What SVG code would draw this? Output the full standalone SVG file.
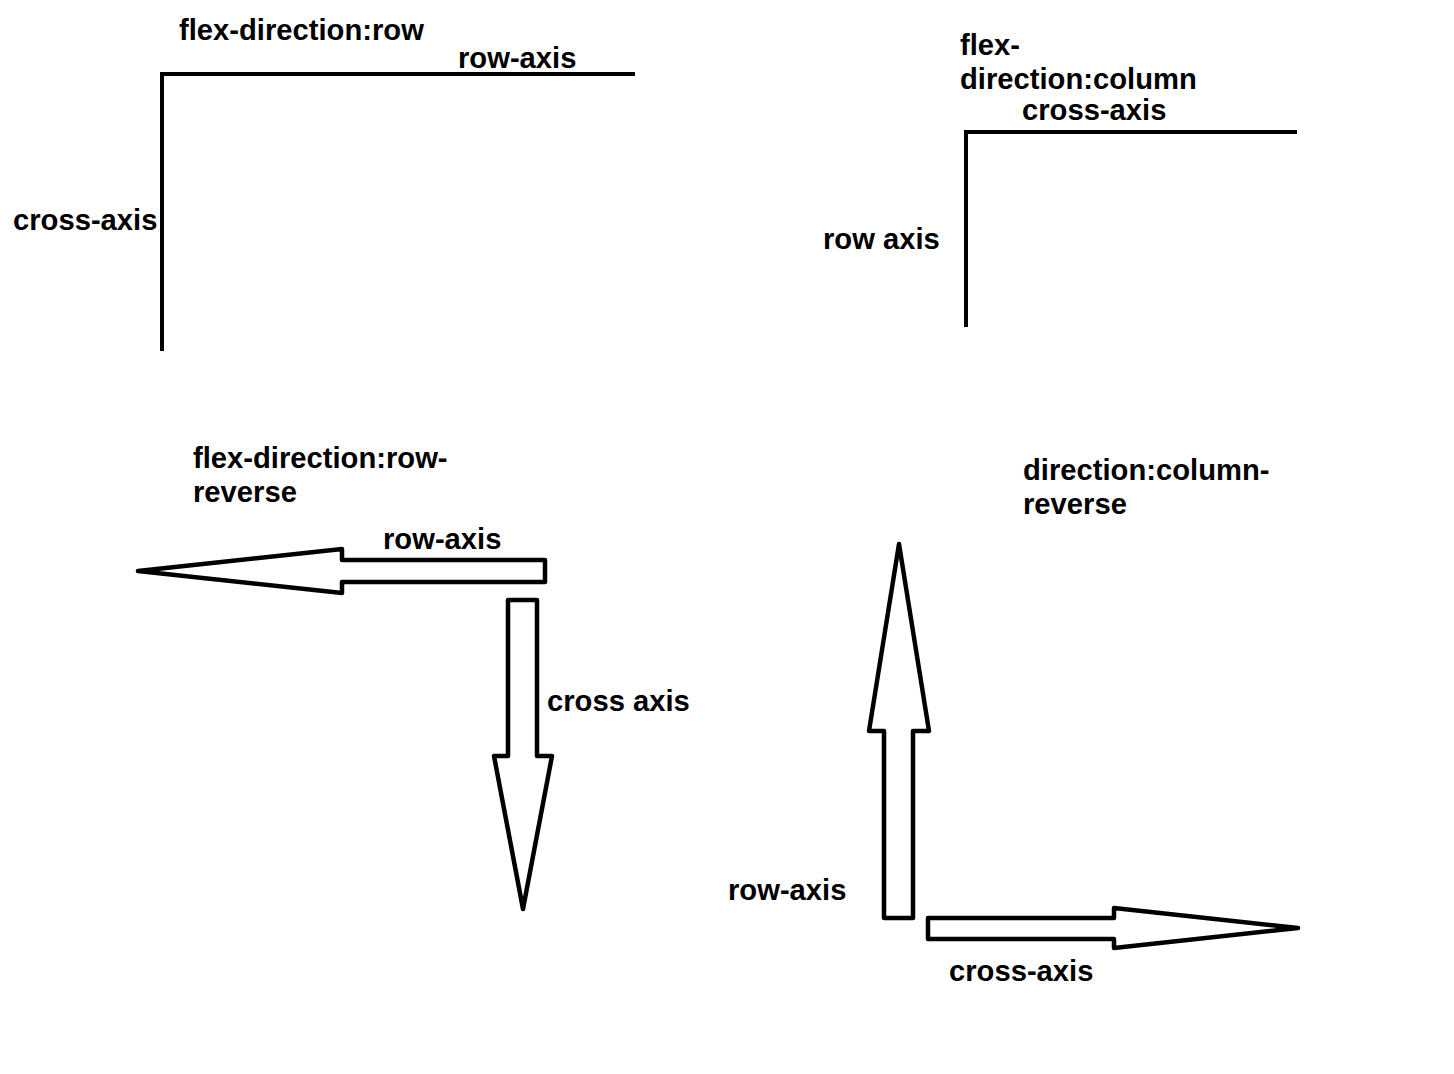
<svg xmlns="http://www.w3.org/2000/svg" width="1454" height="1074" viewBox="0 0 1454 1074">
<style>
text{font-family:"Liberation Sans",Arial,sans-serif;font-weight:bold;font-size:29.2px;fill:#000}
.ln{fill:none;stroke:#000;stroke-width:4;stroke-linecap:square}
.ar{fill:#fff;stroke:#000;stroke-width:4.5;stroke-linejoin:round}
</style>
<rect width="1454" height="1074" fill="#fff"/>
<g id="labels">
<text x="179" y="40">flex-direction:row</text>
<text x="458" y="68">row-axis</text>
<text x="13" y="230">cross-axis</text>
<text x="960" y="55">flex-</text>
<text x="960" y="89">direction:column</text>
<text x="1022" y="120">cross-axis</text>
<text x="823" y="249">row axis</text>
<text x="193" y="468">flex-direction:row-</text>
<text x="193" y="502">reverse</text>
<text x="383" y="549">row-axis</text>
<text x="547" y="711">cross axis</text>
<text x="1023" y="480">direction:column-</text>
<text x="1023" y="514">reverse</text>
<text x="728" y="900">row-axis</text>
<text x="949" y="981">cross-axis</text>
</g>
<g id="connectors">
<polyline id="row-axes" class="ln" points="633,74 162,74 162,349"/>
<polyline id="column-axes" class="ln" points="1295,132 966,132 966,325"/>
<polygon id="arrow-left" class="ar" points="138,571 342,549 342,560 545,560 545,582 342,582 342,593"/>
<polygon id="arrow-down" class="ar" points="508,600 537,600 537,756 552,756 523,909 494,756 508,756"/>
<polygon id="arrow-up" class="ar" points="899,544 929,731 913,731 913,918 884,918 884,731 869,731"/>
<polygon id="arrow-right" class="ar" points="928,918 1114,918 1114,908 1298,928 1114,948 1114,939 928,939"/>
</g>
</svg>
